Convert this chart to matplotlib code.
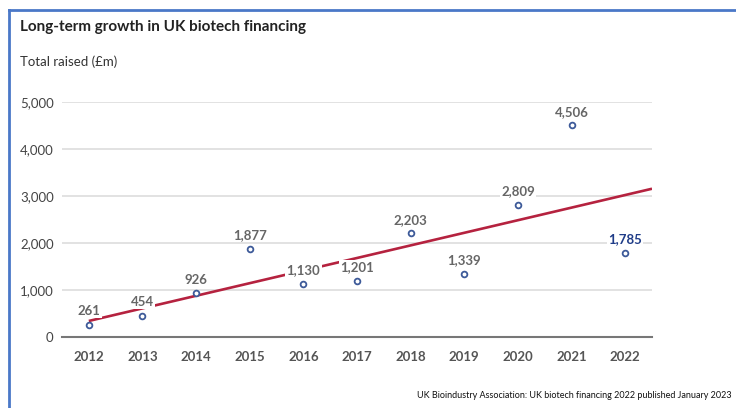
import numpy as np
import matplotlib.pyplot as plt
from matplotlib.lines import Line2D

years = ["2012", "2013", "2014", "2015", "2016", "2017",
         "2018", "2019", "2020", "2021", "2022"]
raised = [261, 454, 926, 1877, 1130, 1201, 2203, 1339, 2809, 4506, 1785]
yticks = [0, 1000, 2000, 3000, 4000, 5000]

plt.rcParams['font.family'] = ['Lato', 'DejaVu Sans']

fig = plt.figure(figsize=(7.36, 4.08), dpi=100)
fig.patch.set_facecolor('white')
ax = fig.add_axes([62 / 736, 1 - 337 / 408, 590 / 736, 235 / 408])

x = np.arange(len(years))

# linear trend across the full axis width
slope, intercept = np.polyfit(x, raised, 1)
xt = np.array([0, len(years) - 0.5])
ax.plot(xt, slope * xt + intercept, color='#b5223f', lw=1.9, zorder=2,
        solid_capstyle='butt')

ax.scatter(x, raised, s=17, facecolor='white', edgecolor='#3d5a99',
           linewidth=1.3, zorder=4, clip_on=False)

for i, v in enumerate(raised):
    last = i == len(raised) - 1
    ax.annotate(f"{v:,}", (i, v), xytext=(0, 5.5), textcoords='offset points',
                ha='center', va='bottom', fontsize=9.5, fontweight='bold',
                color='#1f3c88' if last else '#666666', zorder=3,
                bbox=dict(boxstyle='square,pad=0.1', fc='white', ec='none'))

ax.set_xlim(-0.5, len(years) - 0.5)
ax.set_ylim(0, 5000)
ax.set_yticks(yticks)
ax.set_yticklabels([f"{t:,}" for t in yticks])
ax.set_xticks(x)
ax.set_xticklabels(years, fontweight='bold')
ax.tick_params(axis='y', length=0, pad=6, labelsize=9.5, labelcolor='#444444')
ax.tick_params(axis='x', length=0, pad=10, labelsize=9.5, labelcolor='#555555')
ax.grid(axis='y', color='#dddddd', lw=1.2, zorder=0)
ax.set_axisbelow(True)
for s in ['top', 'right', 'left']:
    ax.spines[s].set_visible(False)
ax.spines['bottom'].set_color('#777777')
ax.spines['bottom'].set_linewidth(1.5)
ax.spines['bottom'].set_zorder(1)

fig.text(20 / 736, 1 - 27 / 408, "Long-term growth in UK biotech financing",
         fontsize=11, fontweight='bold', color='#222222', va='center')
fig.text(20 / 736, 1 - 62 / 408, "Total raised (£m)",
         fontsize=9.5, color='#333333', va='center')
fig.text(732 / 736, 1 - 395 / 408,
         "UK Bioindustry Association: UK biotech financing 2022 published January 2023",
         fontsize=6.5, color='#111111', ha='right', va='center')

# blue frame on top and left edges
fig.add_artist(Line2D([9 / 736, 1], [1 - 10 / 408] * 2, color='#4a78c8',
                      lw=2.0, transform=fig.transFigure))
fig.add_artist(Line2D([9 / 736] * 2, [0, 1 - 10 / 408], color='#4a78c8',
                      lw=2.0, transform=fig.transFigure))

fig.savefig('out.png', dpi=100, facecolor='white')
